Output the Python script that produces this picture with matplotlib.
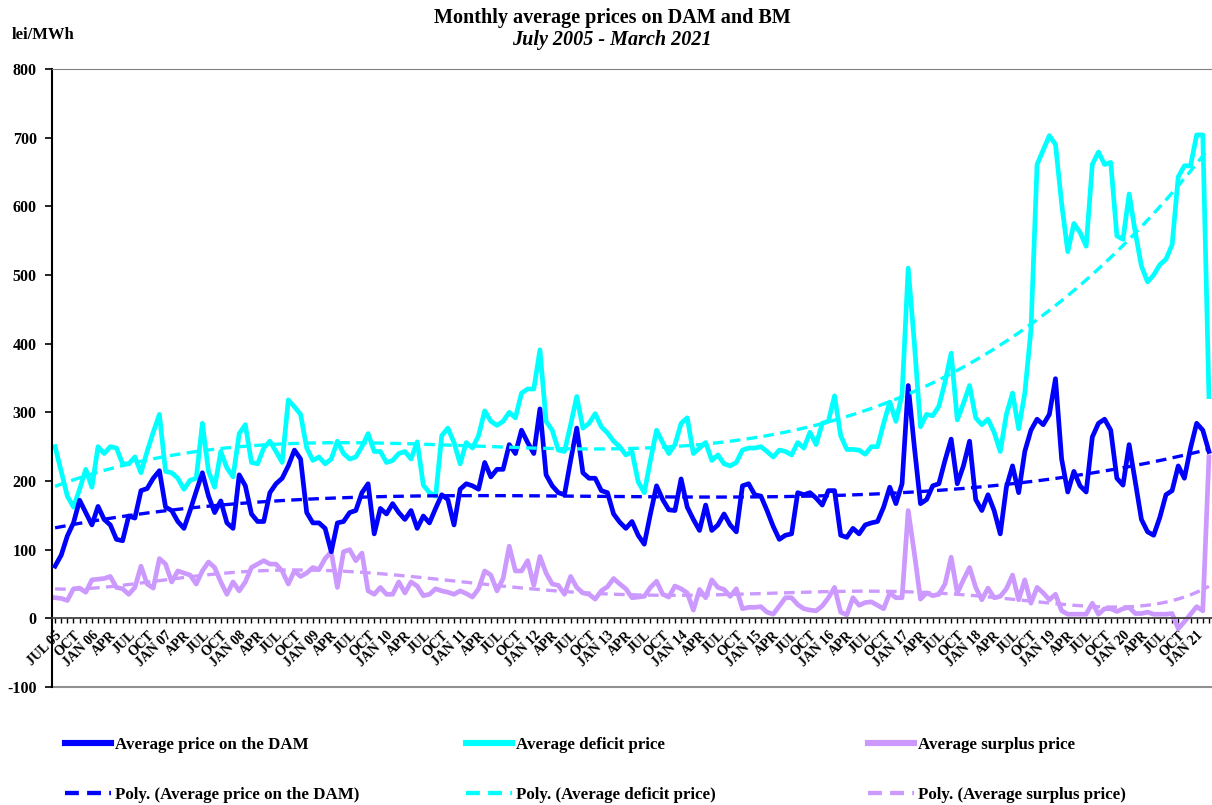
import matplotlib
matplotlib.use('Agg')
import matplotlib.pyplot as plt
import numpy as np
from numpy.polynomial import Polynomial

## monthly values, July 2005 - March 2021 (lei/MWh)
dam = [76, 92, 120, 139, 172, 154, 136, 163, 144, 136,
       115, 113, 149, 146, 186, 189, 204, 215, 162, 157,
       141, 131, 157, 185, 212, 178, 154, 171, 139, 131,
       209, 193, 152, 141, 141, 183, 196, 204, 222, 245,
       232, 154, 139, 139, 131, 97, 139, 141, 154, 157,
       183, 196, 123, 160, 152, 167, 154, 144, 157, 131,
       149, 139, 160, 180, 173, 136, 188, 196, 193, 188,
       227, 206, 217, 217, 253, 240, 274, 256, 240, 305,
       209, 193, 183, 180, 230, 277, 212, 204, 204, 186,
       183, 152, 140, 131, 141, 121, 108, 152, 193, 173,
       158, 157, 203, 162, 144, 128, 165, 128, 136, 152,
       136, 126, 193, 196, 180, 178, 157, 134, 115, 121,
       123, 183, 180, 183, 175, 165, 186, 186, 121, 118,
       131, 123, 136, 139, 141, 162, 191, 167, 196, 339,
       250, 167, 173, 193, 196, 230, 261, 196, 222, 258,
       173, 157, 180, 157, 123, 191, 222, 183, 243, 274,
       290, 282, 297, 349, 232, 184, 214, 193, 184, 264,
       284, 290, 274, 204, 194, 253, 199, 144, 126, 121,
       147, 180, 186, 222, 204, 248, 284, 274, 243]

deficit = [250, 214, 178, 162, 188, 217, 191, 250, 240, 250,
           248, 225, 225, 235, 212, 243, 271, 297, 214, 212,
           204, 188, 201, 204, 284, 214, 191, 243, 219, 206,
           269, 282, 227, 225, 248, 258, 243, 227, 318, 308,
           297, 248, 230, 235, 225, 232, 258, 240, 232, 235,
           250, 269, 243, 243, 227, 230, 240, 243, 232, 257,
           194, 183, 178, 266, 277, 256, 225, 256, 248, 266,
           302, 287, 281, 287, 300, 292, 328, 334, 334, 391,
           287, 274, 245, 243, 282, 323, 277, 284, 298, 279,
           270, 258, 250, 238, 243, 199, 183, 230, 274, 256,
           240, 253, 284, 292, 240, 248, 256, 230, 238, 225,
           222, 227, 245, 248, 248, 250, 243, 235, 245, 243,
           238, 256, 248, 271, 253, 284, 287, 324, 266, 246,
           246, 245, 239, 250, 250, 284, 315, 287, 326, 510,
           401, 279, 297, 295, 309, 344, 386, 289, 313, 339,
           292, 282, 290, 271, 243, 297, 328, 276, 328, 420,
           661, 682, 703, 690, 604, 534, 575, 562, 542, 661,
           679, 661, 664, 557, 552, 618, 562, 513, 490, 500,
           515, 523, 544, 643, 659, 659, 704, 704, 323]

surplus = [30, 29, 26, 43, 44, 38, 56, 57, 58, 61,
           45, 43, 35, 45, 76, 50, 44, 87, 79, 53,
           69, 66, 63, 50, 69, 82, 74, 53, 35, 53,
           40, 53, 74, 79, 84, 79, 79, 69, 50, 69,
           61, 66, 74, 71, 87, 97, 45, 97, 100, 84,
           95, 40, 35, 45, 35, 35, 53, 37, 53, 47,
           33, 35, 43, 40, 38, 35, 40, 36, 31, 43,
           69, 63, 40, 58, 105, 69, 69, 84, 48, 90,
           66, 50, 48, 35, 61, 45, 37, 35, 28, 40,
           46, 58, 50, 43, 30, 31, 32, 45, 54, 35,
           31, 47, 43, 37, 12, 42, 30, 56, 45, 42,
           32, 43, 14, 16, 16, 17, 9, 6, 18, 30,
           30, 20, 14, 12, 11, 18, 30, 45, 9, 5,
           30, 19, 23, 24, 19, 14, 37, 30, 30, 157,
           95, 28, 37, 33, 35, 50, 89, 37, 56, 74,
           45, 27, 44, 30, 32, 43, 63, 27, 56, 22,
           45, 37, 27, 35, 11, 6, 6, 6, 6, 22,
           6, 14, 14, 10, 14, 16, 7, 7, 9, 6,
           6, 6, 7, -15, -5, 6, 17, 11, 235]

first_year = 2005
## polynomial trendline order for each series
order_dam = 3
order_deficit = 3
order_surplus = 6

plt.rcParams['font.family'] = ['Liberation Serif', 'DejaVu Serif']
plt.rcParams['font.weight'] = 'bold'
plt.rcParams['axes.unicode_minus'] = False

n = len(dam)
x = np.arange(n)

## tick labels every 3 months, year shown on JAN (and the first month)
labels = []
for k in range(0, n, 3):
    m = (6 + k) % 12  # 0 = Jan
    yr = first_year + (6 + k) // 12
    name = {0: 'JAN', 3: 'APR', 6: 'JUL', 9: 'OCT'}[m]
    if m == 0 or k == 0:
        name = name + ' %02d' % (yr % 100)
    labels.append(name)

fig = plt.figure(figsize=(12.12, 8.05), dpi=100)
ax = fig.add_axes([52/1212, (805-687)/805, 1 - 52/1212, (687-69)/805])

def trend(vals, order):
    p = Polynomial.fit(x + 1, np.array(vals, dtype=float), order)
    return p(x + 1)

dash = (0, (3.2, 1.9))
l_dam, = ax.plot(x, dam, color='#0000FF', lw=3.4, zorder=3)
l_def, = ax.plot(x, deficit, color='#00FFFF', lw=3.4, zorder=2)
l_sur, = ax.plot(x, surplus, color='#CC99FF', lw=3.4, zorder=2)
t_dam, = ax.plot(x, trend(dam, order_dam), color='#0000FF', lw=2.4, ls=dash, zorder=4)
t_def, = ax.plot(x, trend(deficit, order_deficit), color='#00FFFF', lw=2.4, ls=dash, zorder=4)
t_sur, = ax.plot(x, trend(surplus, order_surplus), color='#CC99FF', lw=2.4, ls=dash, zorder=4)

ax.set_xlim(-0.5, n - 0.5)
ax.set_ylim(-100, 800)
ax.set_yticks(np.arange(-100, 801, 100))
ax.tick_params(axis='y', direction='out', length=5, width=1.2, pad=6, labelsize=11.5)

## category axis crosses at zero
ax.spines['bottom'].set_position(('data', 0))
ax.spines['bottom'].set_color('#404040')
ax.spines['bottom'].set_linewidth(1.3)
ax.spines['right'].set_visible(False)
ax.spines['top'].set_color('#808080')
ax.spines['left'].set_linewidth(1.5)
ax.axhline(-100, color='#909090', lw=1.5, clip_on=False, zorder=1)

ax.set_xticks(np.arange(0, n, 3))
ax.set_xticks(x, minor=True)
ax.set_xticklabels(labels, rotation=45, ha='right', va='top', rotation_mode='anchor', fontsize=10)
ax.tick_params(axis='x', which='both', direction='out', length=3.5, width=1, pad=4)

fig.text(0.505, 1 - 18/805, 'Monthly average prices on DAM and BM', ha='center', va='center',
         fontsize=14.5, fontweight='bold')
fig.text(0.505, 1 - 40/805, 'July 2005 - March 2021', ha='center', va='center',
         fontsize=14.5, fontweight='bold', style='italic')
fig.text(12/1212, 1 - 35/805, 'lei/MWh', ha='left', va='center', fontsize=12, fontweight='bold')

## legend: three columns, two rows
cols = [(65, l_dam, t_dam, 'Average price on the DAM'),
        (466, l_def, t_def, 'Average deficit price'),
        (868, l_sur, t_sur, 'Average surplus price')]
for xpos, h1, h2, name in cols:
    leg = fig.legend([h1, h2], [name, 'Poly. (' + name + ')'], loc='center left',
                     bbox_to_anchor=(xpos/1212, 1 - 770/805), frameon=False,
                     fontsize=12.2, handlelength=2.7, handletextpad=0.25,
                     labelspacing=2.0, borderpad=0, borderaxespad=0)
    for t in leg.get_texts():
        t.set_fontweight('bold')
    for h in leg.get_lines():
        h.set_linewidth(h.get_linewidth() * 1.3)

fig.savefig('out.png', dpi=100)
